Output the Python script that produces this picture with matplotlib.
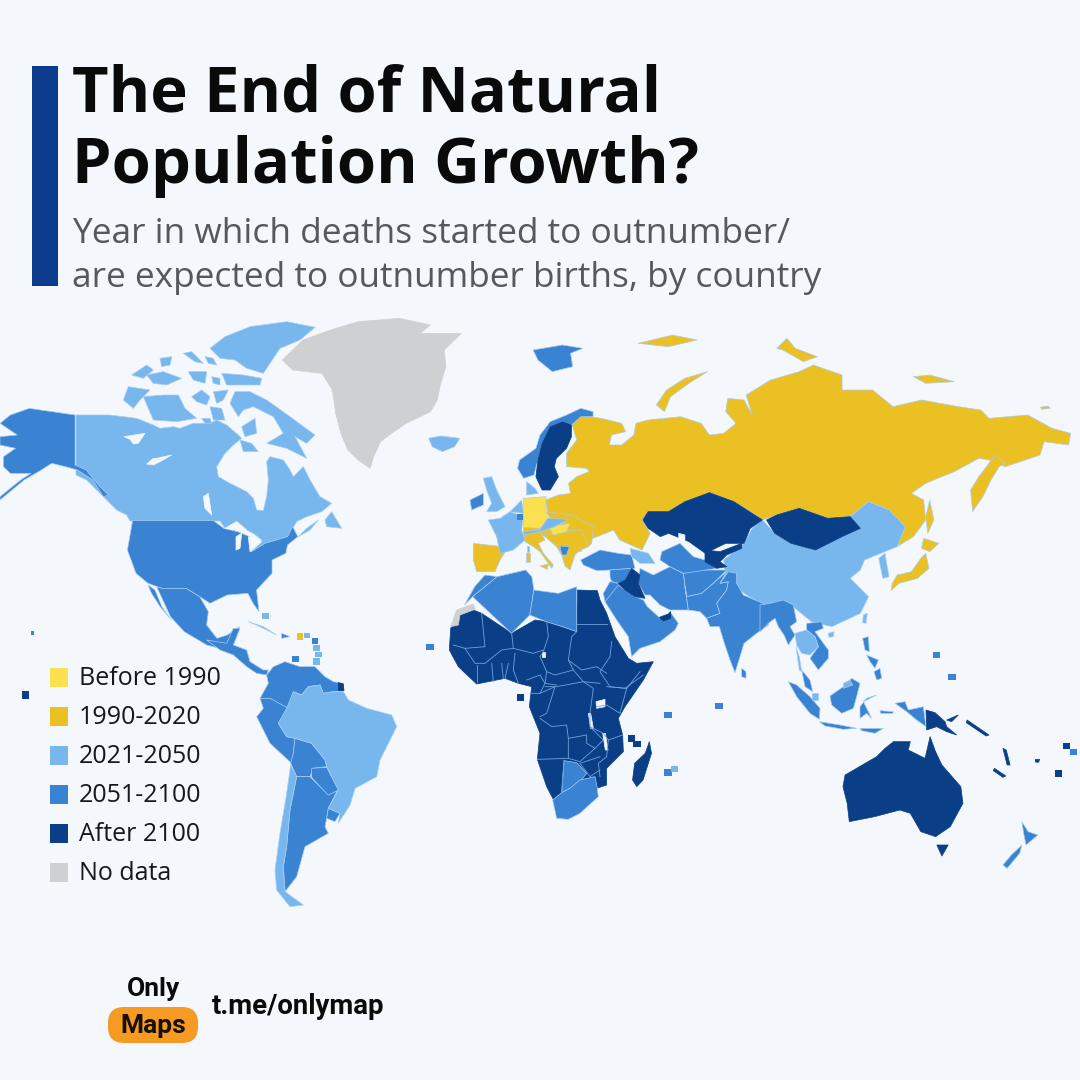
# plot.py - "The End of Natural Population Growth?" world map, outlines traced by hand
import matplotlib
matplotlib.use("Agg")
import matplotlib.pyplot as plt
from matplotlib.patches import Polygon, Rectangle, FancyBboxPatch

BG = "#f4f8fc"
categories = ["Before 1990", "1990-2020", "2021-2050", "2051-2100", "After 2100", "No data"]
colors = ["#fbe04f", "#ebc023", "#78b6ee", "#3a82d2", "#0a3f87", "#cfd0d2"]
OLD, Y90, Y21, Y51, Y00, NOD = colors

FRAMES = {
    "A": (0, 310, 2.904, 3), "B": (440, 320, 2.45, 3), "C": (420, 600, 2.376, 3), "D": (0, 620, 3, 3),
    "E": (760, 590, 3, 3), "F": (110, 320, 3, 3), "G": (560, 540, 3, 3), "H": (440, 600, 3, 3), "I": (460, 440, 3, 3),
}

# North America
GREENLAND = [(820,150),(880,90),(960,60),(1040,35),(1160,25),(1250,45),(1220,70),(1340,70),(1290,120),(1295,170),(1280,220),(1270,270),(1250,305),(1180,340),(1130,375),(1105,395),(1085,440),(1075,475),(1040,450),(1010,420),(990,370),(975,310),(965,240),(935,190),(850,180)]
CANADA = [(-102,285),(-50,285),(0,285),(40,290),(80,295),(130,315),(150,325),(190,320),(210,325),(250,310),(300,310),(320,300),(350,315),(385,345),(395,355),(370,375),(345,400),(320,440),(325,470),(360,490),(410,515),(430,535),(440,570),(460,572),(470,530),(475,480),(470,425),(480,410),(520,420),(540,450),(550,470),(580,440),(600,480),(630,530),(665,550),(635,575),(590,590),(560,605),(548,625),(530,655),(480,665),(440,685),(420,695),(455,660),(430,640),(410,630),(380,605),(345,625),(330,603),(60,603),(50,585),(20,570),(0,550),(-30,520),(-70,480),(-102,465)]
ARCTIC = [
    [(300,85),(345,50),(420,20),(530,5),(615,22),(570,60),(510,85),(480,130),(460,160),(410,145),(375,120),(330,115)],
    [(335,160),(400,165),(455,175),(450,195),(350,195)],
    [(220,100),(245,95),(280,130),(255,125)],
    [(285,110),(310,115),(320,135),(295,130)],
    [(235,155),(290,155),(285,190),(250,180)],
    [(65,165),(110,135),(130,150),(100,175)],
    [(110,165),(160,155),(215,175),(170,195),(130,190)],
    [(150,115),(185,110),(180,135),(155,140)],
    [(305,170),(330,175),(330,195),(310,190)],
    [(360,250),(375,215),(420,215),(470,240),(540,290),(615,345),(590,370),(555,350),(590,415),(530,385),(470,370),(520,340),(490,290),(430,260),(400,270),(385,290)],
    [(100,230),(160,225),(205,225),(225,265),(260,295),(200,305),(130,300),(115,265)],
    [(40,240),(55,200),(120,210),(90,240),(70,265)],
    [(245,230),(275,210),(300,230),(290,255),(260,245)],
    [(310,215),(355,210),(340,240),(320,250)],
    [(300,260),(335,265),(345,300),(310,300)],
    [(275,295),(300,295),(305,310),(285,310)],
    [(395,320),(435,295),(440,340),(405,350)],
    [(390,360),(425,370),(445,395),(400,395)],
    [(645,600),(665,575),(695,625),(650,620)],
    [(565,650),(590,625),(625,600),(600,630)],
]
ICELAND = [(1245,385),(1280,378),(1335,385),(1320,410),(1285,425),(1255,410)]
LAKES_NA = [
    [(42,350),(105,340),(85,370),(70,372),(60,358)],
    [(110,432),(130,415),(140,415),(185,405),(150,425),(130,435)],
    [(280,530),(295,520),(305,585),(285,565)],
    [(345,625),(380,605),(410,630),(385,630)],
    [(378,650),(395,640),(390,685),(378,690)],
    [(415,650),(455,665),(420,695)],
    [(475,320),(495,318),(490,332)],
]
ALASKA = [(0,340),(30,315),(85,295),(218,315),(218,465),(250,480),(290,530),(315,555),(300,560),(270,510),(225,480),(190,470),(150,460),(120,480),(70,510),(0,570),(0,560),(60,510),(90,490),(30,490),(10,470),(10,440),(45,415),(0,405),(0,380),(50,375)]
USA = [(385,632),(620,632),(650,655),(690,665),(725,680),(730,725),(770,700),(835,680),(850,650),(865,680),(835,705),(830,730),(790,750),(790,790),(745,840),(752,905),(735,880),(720,850),(660,855),(610,880),(580,860),(540,835),(470,835),(430,820),(395,790),(370,720)]
MEXICO = [(455,830),(470,835),(540,835),(580,860),(605,905),(600,945),(630,985),(660,975),(695,950),(680,1000),(655,1020),(600,1005),(535,965),(495,920)]
BAJA = [(430,825),(450,840),(470,890),(497,930),(465,890),(440,850)]

# Central and South America
CENTRAL_AM = [(620,60),(680,70),(700,25),(720,25),(700,75),(740,90),(750,125),(790,150),(805,150),(800,165),(770,160),(740,140),(700,105),(660,90)]
NORTH_SA = [(800,165),(820,140),(855,125),(900,140),(945,140),(975,170),(1000,185),(1030,190),(1030,212),(1000,215),(970,220),(960,195),(925,200),(905,225),(880,215),(865,260),(850,265),(810,235),(780,235),(805,190)]
GUIANA = [(1015,188),(1030,192),(1032,212),(1015,212)]
PERU = [(780,235),(810,235),(865,265),(835,310),(860,350),(885,355),(880,400),(875,430),(810,370),(770,290),(790,265)]
BOLIVIA = [(885,355),(935,370),(975,420),(980,440),(940,445),(930,470),(890,470),(872,430),(880,400)]
PARAGUAY = [(935,445),(980,442),(1016,510),(985,528),(935,472)]
ARGENTINA = [(890,470),(930,470),(985,525),(1012,512),(985,565),(980,595),(975,620),(985,640),(915,680),(890,770),(855,815),(850,740),(860,680),(870,570)]
URUGUAY = [(985,565),(1020,580),(1005,605),(980,595)]
CHILE = [(872,435),(890,470),(870,570),(860,680),(850,740),(855,815),(910,855),(870,860),(830,810),(825,750),(840,640),(860,520)]
BRAZIL = [(860,265),(880,215),(905,225),(925,200),(960,195),(970,220),(1000,215),(1030,215),(1045,240),(1100,265),(1175,285),(1190,320),(1140,420),(1130,470),(1065,505),(1050,555),(1015,610),(1020,580),(985,565),(1015,510),(980,440),(975,420),(935,370),(885,355),(860,350),(835,310)]
CUBA = [(745,5),(790,20),(830,45),(790,25)]
HISPANIOLA = [(845,40),(870,50),(845,55)]

# Russia and the far east
RUSSIA = [(340,285),(395,295),(445,310),(455,335),(420,345),(415,375),(445,375),(475,345),(480,310),(510,300),(590,290),(640,310),(660,345),(695,340),(725,310),(700,275),(705,235),(745,240),(765,285),(750,225),(810,180),(880,155),(915,135),(985,165),(985,210),(1060,210),(1110,260),(1180,240),(1270,260),(1325,270),(1345,295),(1440,285),(1500,325),(1545,340),(1540,375),(1480,365),(1470,405),(1410,430),(1385,440),(1345,420),(1320,415),(1260,455),(1190,490),(1155,520),(1185,540),(1190,600),(1160,650),(1120,680),(1140,620),(1100,570),(1050,545),(1005,590),(950,595),(880,565),(825,585),(790,600),(760,575),(720,545),(660,518),(600,545),(560,575),(510,575),(495,600),(515,640),(495,690),(440,660),(425,630),(395,645),(365,660),(345,695),(310,680),(295,650),(320,620),(315,600),(265,585),(258,540),(290,525),(320,520),(315,490),(335,470),(365,455),(360,445),(310,440),(310,400),(335,360),(320,300)]
KAMCHATKA = [(1360,405),(1345,430),(1320,470),(1300,510),(1305,575),(1330,530),(1350,480),(1370,440),(1385,430)]
RUSSIA_ISLES = [
    [(485,70),(570,45),(630,60),(560,80)],
    [(825,85),(850,55),(870,85),(925,110),(890,125),(840,90)],
    [(1160,170),(1200,165),(1260,185),(1190,190)],
    [(655,155),(600,175),(555,210),(530,255),(550,275),(565,230),(610,190)],
    [(1200,540),(1210,600),(1195,640),(1190,590)],
    [(1470,262),(1490,258),(1495,265),(1475,268)],
]
JAPAN = [
    [(1185,655),(1222,670),(1200,695),(1180,685)],
    [(1190,700),(1198,745),(1170,775),(1125,790),(1105,812),(1108,790),(1120,765),(1155,755),(1178,715)],
]
SVALBARD = [(228,90),(300,75),(350,85),(320,100),(325,140),(275,155),(240,120)]
NORWAY = [(375,275),(345,265),(310,285),(270,305),(245,345),(235,385),(195,420),(190,445),(205,475),(230,465),(240,420),(250,370),(270,320),(300,305),(322,315),(345,290),(375,290)]
SWEDEN = [(270,320),(300,305),(322,315),(322,350),(310,385),(285,415),(280,440),(290,470),(270,510),(250,510),(235,470),(240,420),(250,370)]

# Europe
EAST_EU = [(190,265),(260,215),(335,225),(400,260),(395,310),(385,320),(360,330),(345,345),(305,345),(290,320),(250,285),(190,285)]
BALKANS = [(250,285),(320,272),(365,270),(385,320),(360,330),(345,340),(345,345),(330,390),(315,378),(305,345),(290,320)]
ALBANIA = [(300,318),(328,320),(320,345),(305,345)]
ITALY = [(190,285),(240,275),(255,300),(235,310),(250,340),(280,375),(275,385),(240,335),(220,320),(195,305)]
SICILY = [(240,378),(265,372),(262,388)]
SARDINIA = [(198,340),(210,340),(210,365),(198,365)]
CORSICA = [(200,318),(208,318),(208,335),(200,335)]
SPAIN = [(40,310),(145,322),(120,360),(105,395),(50,395),(40,360)]
GERMANY = [(190,175),(258,170),(258,215),(270,232),(240,265),(190,262)]
HUNGARY = [(265,260),(330,250),(320,275),(280,285)]
CENTRAL_EU = [(190,275),(240,270),(262,235),(325,238),(280,262),(240,275),(190,285)]
FRANCE = [(85,240),(120,235),(150,215),(190,230),(185,270),(195,300),(160,330),(120,340),(110,290)]
UK = [(70,115),(95,110),(110,150),(135,200),(110,215),(80,215),(95,190),(80,150)]
IRELAND = [(30,180),(70,160),(70,195),(35,210)]
LOW_COUNTRIES = [(150,215),(185,180),(190,220)]
DENMARK = [(200,125),(225,145),(235,160),(200,165)]

# Middle East and south Asia
TURKEY = [(62,60),(120,30),(175,40),(215,45),(225,85),(150,90),(110,92),(70,75)]
CAUCASUS = [(210,25),(265,40),(285,70),(240,70),(215,50)]
SYRIA = [(150,90),(215,85),(195,120),(175,130),(155,125),(150,110)]
JORDAN = [(150,125),(175,130),(190,145),(135,185),(130,160)]
IRAQ = [(215,85),(240,105),(235,130),(255,175),(225,170),(195,150),(175,130),(195,120)]
ARABIA = [(135,185),(175,135),(195,150),(225,170),(250,180),(262,200),(290,225),(300,235),(330,225),(330,215),(355,250),(345,270),(300,305),(240,325),(215,350),(205,290),(170,240)]
UAE = [(298,232),(325,222),(332,215),(332,235),(310,243)]
IRAN = [(240,85),(280,105),(330,80),(370,100),(375,140),(385,210),(330,210),(300,195),(270,165),(255,165),(235,130)]
TURAN = [(305,35),(360,10),(400,50),(435,60),(470,85),(440,90),(400,100),(370,100),(330,80),(300,60)]
AFGHAN = [(370,100),(440,90),(500,90),(460,130),(425,160),(380,170)]
PAKISTAN = [(375,140),(380,170),(425,160),(460,130),(500,95),(480,130),(505,125),(500,150),(470,190),(480,220),(440,235),(420,215),(385,210)]
INDIA = [(505,95),(530,100),(530,130),(550,165),(620,195),(625,255),(590,280),(552,310),(540,350),(525,398),(510,360),(490,300),(478,260),(450,260),(440,235),(480,220),(470,190),(500,150),(505,125),(480,130)]
SRI_LANKA = [(545,385),(558,395),(558,415),(545,410)]
KYRGYZ_TAJIK = [(435,30),(480,35),(545,10),(545,25),(500,45),(480,65),(500,80),(470,85),(435,65)]
KAZAKHSTAN = [(497,600),(510,575),(560,575),(600,545),(660,518),(720,545),(790,600),(760,625),(745,670),(700,670),(650,700),(610,665),(560,640),(540,650),(510,625)]
MONGOLIA = [(800,600),(825,585),(880,565),(950,595),(1005,590),(1030,625),(985,650),(920,690),(860,670),(820,640)]
ARAL = [(585,640),(600,645),(600,665),(585,665)]
CHINA = [(695,720),(745,670),(765,625),(790,600),(820,640),(860,670),(920,690),(985,650),(1030,625),(1005,590),(1050,545),(1100,570),(1140,620),(1120,680),(1080,700),(1040,720),(1030,750),(1005,775),(1050,830),(1030,880),(960,920),(910,905),(860,855),(790,855),(745,820),(725,800),(700,775)]
KOREA = [(1075,715),(1090,700),(1100,770),(1085,775)]

# South-east Asia and the islands
MYANMAR = [(0,45),(30,40),(70,30),(100,45),(110,95),(90,110),(105,135),(85,165),(72,135),(55,110),(45,85),(25,100),(0,125)]
THAILAND = [(105,130),(140,120),(165,140),(175,170),(150,195),(125,190),(110,165)]
THAI_TAIL = [(108,170),(118,200),(125,245),(118,240)]
INDOCHINA = [(140,100),(185,95),(190,115),(165,125),(205,180),(205,205),(175,240),(150,205),(175,170),(165,140),(140,120)]
SE_ISLES = [
    [(125,240),(150,270),(158,305),(135,290)],
    [(85,275),(110,285),(150,320),(180,355),(178,388),(150,370),(110,320)],
    [(178,395),(240,405),(290,415),(250,418),(195,408)],
    [(300,415),(370,415),(345,430),(305,422)],
    [(210,318),(250,290),(275,265),(300,280),(290,320),(280,355),(245,370),(215,345)],
    [(300,350),(320,325),(350,315),(310,335),(335,385),(320,370),(300,385)],
    [(308,145),(325,140),(328,185),(315,180)],
    [(320,195),(355,210),(345,235),(330,215)],
    [(342,245),(360,235),(365,265),(350,270)],
    [(405,340),(435,335),(445,360),(490,350),(498,410),(470,390),(440,365)],
    [(360,362),(400,365),(398,370),(362,370)],
]
SE_LIGHT = [[(250,280),(270,270),(278,285),(250,295)], [(155,310),(175,310),(175,330),(155,330)],
            [(205,130),(222,125),(220,140),(207,142)], [(310,75),(322,70),(318,100),(308,98)]]
PNG = [(498,360),(525,368),(555,395),(560,410),(590,435),(560,425),(530,410),(500,420)]
NEW_BRITAIN = [(560,390),(595,375),(575,395)]
AUSTRALIA = [(1010,525),(1085,470),(1105,445),(1125,425),(1165,425),(1160,450),(1200,475),(1212,410),(1225,455),(1240,495),(1285,560),(1290,610),(1260,680),(1225,710),(1190,695),(1165,640),(1140,630),(1080,650),(1020,665),(1015,610),(1005,560)]
TASMANIA = [(1228,735),(1255,735),(1240,768)]
NEW_ZEALAND = [[(1430,665),(1445,695),(1468,705),(1440,735),(1435,705)], [(1430,735),(1425,760),(1395,805),(1385,795),(1405,765)]]
PACIFIC_ISLES = [
    [(1300,360),(1352,405),(1345,408),(1298,368)],
    [(1385,445),(1393,450),(1402,495),(1395,495)],
    [(1365,505),(1392,528),(1385,532),(1362,512)],
    [(1462,478),(1472,478),(1470,487),(1462,486)],
]
MADAGASCAR = [(545,425),(550,460),(530,540),(515,560),(505,540),(510,490),(535,460)]

# Africa
AFRICA = [(32,85),(60,45),(100,30),(125,40),(215,100),(285,60),(320,65),(410,95),(412,-30),(472,-28),(480,0),(500,40),(525,110),(565,175),(590,190),(640,185),(610,240),(555,320),(535,355),(548,405),(550,455),(500,505),(500,555),(470,565),(465,530),(420,540),(390,565),(365,578),(340,598),(320,560),(292,478),(300,400),(268,320),(275,260),(235,250),(195,235),(110,252),(55,200),(28,150)]
MOROCCO = [(110,765),(140,770),(80,830),(60,855),(85,800)]
ALGERIA = [(140,770),(210,750),(225,770),(230,810),(220,885),(175,940),(80,830)]
LIBYA = [(230,810),(290,820),(335,800),(335,935),(300,920),(260,905),(220,885)]
W_SAHARA = [(32,80),(50,30),(100,12),(105,28),(60,45),(55,75)]
BOTSWANA = [(372,482),(410,488),(440,520),(420,545),(390,565),(365,578)]
SOUTH_AFRICA = [(338,600),(365,578),(390,565),(420,540),(465,530),(472,565),(475,590),(420,640),(385,658),(350,655)]
LAKES_AFRICA = [[(468,305),(495,298),(495,320),(470,325)], [(445,340),(452,340),(460,385),(452,385)],
                [(488,400),(496,400),(504,450),(496,450)], [(305,155),(315,155),(315,170),(305,170)]]
BORDERS_AFRICA = [
    [(125,40),(135,140),(75,145),(40,135)], [(215,100),(220,145),(185,150),(135,190),(105,190),(75,145)],
    [(320,65),(325,110),(310,155),(300,170)], [(220,145),(280,160),(310,150)],
    [(410,95),(395,110),(385,180),(400,210),(345,225),(320,215),(300,170)], [(225,160),(220,210),(235,250)],
    [(110,195),(110,245)], [(155,190),(160,245)], [(185,190),(190,235)], [(205,190),(195,235)],
    [(385,180),(425,210),(470,200),(500,220)], [(400,210),(430,245),(480,250)],
    [(515,125),(510,170),(480,215),(510,260),(555,265),(610,225)], [(560,265),(600,215)],
    [(500,260),(560,265),(540,340),(500,315),(470,320)],
    [(315,260),(350,260),(430,245),(460,265),(450,340),(450,380),(490,420),(465,445),(440,430),(440,405),(385,415),(380,375),(335,380),(300,355)],
    [(320,215),(315,250),(350,255)], [(260,240),(300,225),(315,250),(300,280),(270,280)], [(300,280),(345,260),(320,340),(300,350)],
    [(385,415),(385,475),(292,478)], [(465,445),(420,485),(385,475)], [(450,380),(490,400),(505,420),(548,405)],
    [(505,420),(500,470),(475,490),(480,530)], [(420,490),(480,470)], [(420,490),(450,530),(480,510)],
    [(412,72),(500,72)], [(372,482),(365,578)],
]

SQUARES = {
    "C": [(15,132,33,150,Y51),(230,283,248,302,Y00),(495,405,512,425,Y00),(507,422,525,440,Y00),(580,337,598,355,Y51),(702,310,720,328,Y51),(580,508,598,527,Y51),(596,497,613,516,Y21),(1218,155,1236,173,Y51),(1255,222,1273,240,Y51),(1527,430,1545,448,Y00),(1545,448,1562,465,Y51),(1508,511,1526,530,Y00)],
    "D": [(890,40,910,60,Y90),(912,38,930,55,Y21),(935,53,955,72,Y51),(940,75,960,92,Y21),(945,95,965,112,Y21),(940,113,960,135,Y21),(875,108,897,125,Y51),(65,213,88,237,Y00)],
    "A": [(762,908,780,926,Y21),(90,962,100,974,Y51)],
    "I": [(170,222,190,240,Y51)],
}

LAYERS = [
    ("A", NOD, [GREENLAND]), ("F", Y21, [CANADA] + ARCTIC), ("A", Y21, [ICELAND]), ("A", Y51, [ALASKA, USA, MEXICO, BAJA]), ("F", BG, LAKES_NA),
    ("D", Y51, [CENTRAL_AM, HISPANIOLA, NORTH_SA, PERU, BOLIVIA, PARAGUAY, ARGENTINA, URUGUAY]),
    ("D", Y21, [CHILE, BRAZIL, CUBA]), ("D", Y00, [GUIANA]),
    ("B", Y90, [RUSSIA, KAMCHATKA] + RUSSIA_ISLES + JAPAN), ("I", Y90, [EAST_EU, BALKANS, ITALY, SICILY, SARDINIA, SPAIN]),
    ("I", OLD, [GERMANY, HUNGARY]), ("I", Y21, [CENTRAL_EU, FRANCE, UK, LOW_COUNTRIES, DENMARK, CORSICA]),
    ("I", Y51, [IRELAND, ALBANIA]), ("B", Y51, [NORWAY, SVALBARD]), ("B", Y00, [SWEDEN]),
    ("B", Y21, [CHINA, KOREA]), ("B", Y00, [KAZAKHSTAN, MONGOLIA]), ("B", BG, [ARAL]),
    ("G", Y51, [TURKEY, SYRIA, JORDAN, ARABIA, IRAN, TURAN, AFGHAN, PAKISTAN, INDIA, SRI_LANKA]), ("G", Y21, [CAUCASUS]),
    ("G", Y00, [IRAQ, UAE, KYRGYZ_TAJIK]),
    ("E", Y51, [MYANMAR, INDOCHINA] + SE_ISLES), ("E", Y21, [THAILAND, THAI_TAIL] + SE_LIGHT), ("E", Y00, [PNG, NEW_BRITAIN]),
    ("H", Y00, [AFRICA]), ("H", Y51, [BOTSWANA, SOUTH_AFRICA]), ("H", NOD, [W_SAHARA]), ("H", BG, LAKES_AFRICA),
    ("B", Y51, [MOROCCO, ALGERIA, LIBYA]),
    ("C", Y00, [MADAGASCAR, AUSTRALIA, TASMANIA] + PACIFIC_ISLES), ("C", Y51, NEW_ZEALAND),
]


def to_px(frame, pts):
    x0, y0, sx, sy = FRAMES[frame]
    return [(x0 + x / sx, y0 + y / sy) for x, y in pts]


plt.rcParams["font.family"] = ["Open Sans", "DejaVu Sans"]
fig = plt.figure(figsize=(10.8, 10.8), dpi=100, facecolor=BG)
ax = fig.add_axes([0, 0, 1, 1])
ax.set_xlim(0, 1080)
ax.set_ylim(1080, 0)
ax.axis("off")

for frame, color, polys in LAYERS:
    for pts in polys:
        edge = color if color in (BG, NOD, Y00) else "#a8cdf2"
        ax.add_patch(Polygon(to_px(frame, pts), closed=True, facecolor=color, edgecolor=edge, linewidth=0.5, joinstyle="round"))

for line in BORDERS_AFRICA:
    xs, ys = zip(*to_px("H", line))
    ax.plot(xs, ys, color="#6ea3df", lw=0.6)

for frame, squares in SQUARES.items():
    for x1, y1, x2, y2, color in squares:
        (a, b), (c, d) = to_px(frame, [(x1, y1), (x2, y2)])
        ax.add_patch(Rectangle((a, b), c - a, d - b, facecolor=color, edgecolor="none"))

# title block
ax.add_patch(Rectangle((32, 66), 26, 220, facecolor="#0b3d8c", edgecolor="none"))
ax.text(72, 95, "The End of Natural", fontsize=45.5, fontweight="bold", color="#0a0a0a", va="center")
ax.text(72, 166, "Population Growth?", fontsize=45.5, fontweight="bold", color="#0a0a0a", va="center")
ax.text(72, 234, "Year in which deaths started to outnumber/", fontsize=25.35, color="#55595f", va="center")
ax.text(72, 278, "are expected to outnumber births, by country", fontsize=25.35, color="#55595f", va="center")

# legend
for i, (label, color) in enumerate(zip(categories, colors)):
    y = 677 + 39 * i
    ax.add_patch(Rectangle((50, y - 9.5), 18, 19, facecolor=color, edgecolor="none"))
    ax.text(79, y + 1.5, label, fontsize=18, color="#15181c", va="center")

# logo
ax.add_patch(FancyBboxPatch((108, 1007), 90, 36, boxstyle="round,pad=0,rounding_size=16", mutation_aspect=1,
                            facecolor="#f59a23", edgecolor="none"))
ax.text(153, 989, "Only", fontsize=19, fontweight="bold", family="Roboto", color="#0a0a0a", ha="center", va="center")
ax.text(153, 1026, "Maps", fontsize=19, fontweight="bold", family="Roboto", color="#1a0f05", ha="center", va="center")
ax.text(212, 1007, "t.me/onlymap", fontsize=19.8, fontweight="bold", family="Roboto", color="#0a0a0a", va="center")

fig.savefig("out.png", dpi=100, facecolor=BG)
